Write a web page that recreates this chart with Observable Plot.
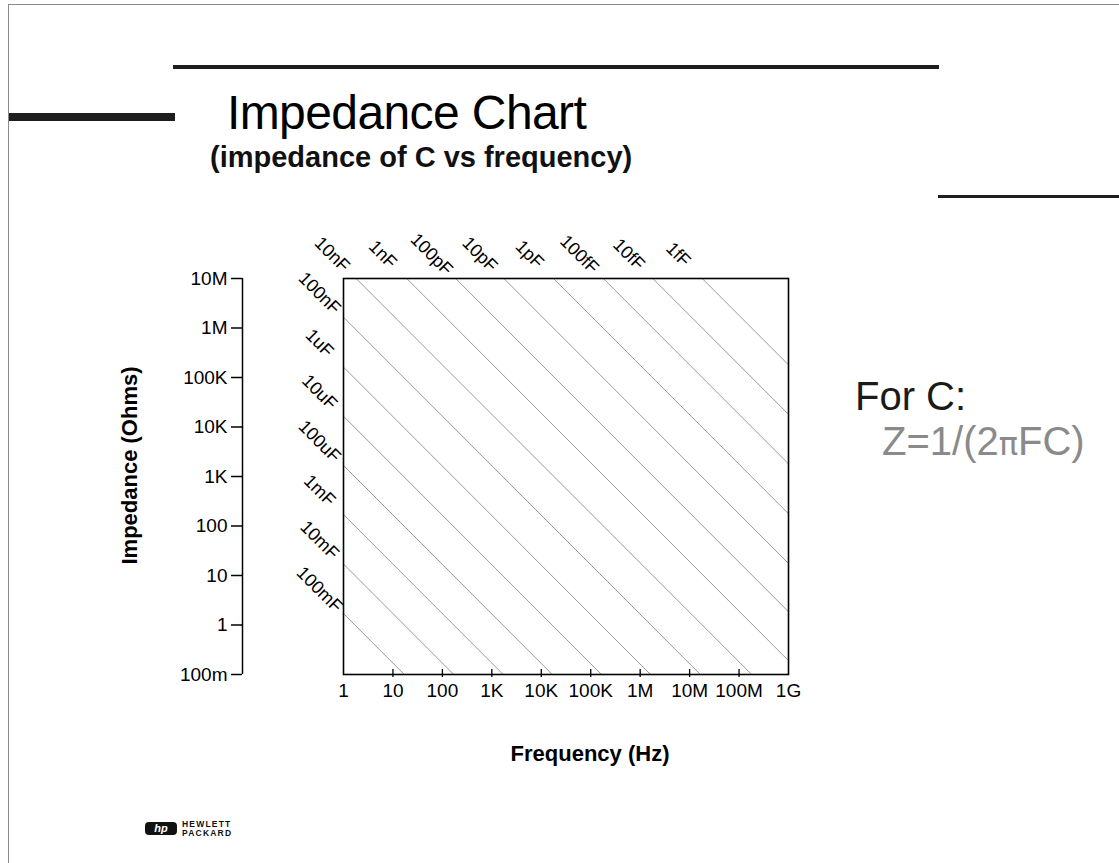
<!DOCTYPE html>
<html>
<head>
<meta charset="utf-8">
<script src="https://cdn.jsdelivr.net/npm/d3@7"></script>
<script src="https://cdn.jsdelivr.net/npm/@observablehq/plot@0.6"></script>
<style>
  html, body { margin: 0; padding: 0; background: #fff; }
  body { font-family: "Liberation Sans", Arial, Helvetica, sans-serif; }
  #slide { position: relative; width: 1119px; height: 863px; overflow: hidden; background: #fff; }
  #chart { position: absolute; left: 0; top: 0; }
  .abs { position: absolute; white-space: nowrap; line-height: 1; }
  .rule { position: absolute; background: #1e1e1e; }
  .hp { font-size: 8.5px; font-weight: bold; letter-spacing: 1.2px; color: #111; }
</style>
</head>
<body>
<div id="slide">
  <div class="abs" style="left:8px;top:4px;width:1200px;height:900px;border-left:1px solid #8a8a8a;border-top:1px solid #8a8a8a;"></div>
  <div class="rule" style="left:173px;top:65px;width:766px;height:4px;"></div>
  <div class="rule" style="left:9px;top:113px;width:166px;height:8px;"></div>
  <div class="rule" style="left:938px;top:195px;width:181px;height:3px;"></div>
  <div id="chart"></div>
  <div class="abs" style="left:227px;top:89px;font-size:48px;letter-spacing:-0.6px;color:#000;">Impedance Chart</div>
  <div class="abs" style="left:210px;top:143px;font-size:29px;font-weight:bold;color:#111;">(impedance of C vs frequency)</div>
  <div class="abs" style="left:855px;top:376px;font-size:40px;color:#1a1a1a;">For C:</div>
  <div class="abs" style="left:882px;top:421px;font-size:40px;color:#8a8a8a;">Z=1/(2<span style="font-family:'DejaVu Sans',sans-serif;font-size:0.8em;">π</span>FC)</div>
  <div class="abs" style="left:145px;top:822px;width:32px;height:13px;background:#111;border-radius:4px;color:#fff;font-size:11px;font-weight:bold;font-style:italic;text-align:center;line-height:13px;">hp</div>
  <div class="abs hp" style="left:182px;top:820px;">HEWLETT</div>
  <div class="abs hp" style="left:182px;top:828.6px;">PACKARD</div>
</div>
<script>
// Axis ticks
const xTickValues = [1, 10, 100, 1e3, 1e4, 1e5, 1e6, 1e7, 1e8, 1e9];
const xTickLabels = ["1", "10", "100", "1K", "10K", "100K", "1M", "10M", "100M", "1G"];
const xInnerTicks = [10, 100, 1e3, 1e4, 1e5, 1e6, 1e7, 1e8];
const yTickValues = [1e7, 1e6, 1e5, 1e4, 1e3, 100, 10, 1, 0.1];
const yTickLabels = ["10M", "1M", "100K", "10K", "1K", "100", "10", "1", "100m"];

// Capacitance lines: entry and exit points (frequency Hz, impedance Ohms)
const capLabels = ["100mF", "10mF", "1mF", "100uF", "10uF", "1uF", "100nF",
                   "10nF", "1nF", "100pF", "10pF", "1pF", "100fF", "10fF", "1fF"];
const startFreq = [1, 1, 1, 1, 1, 1, 1,
                   1.8, 19, 185, 1750, 17700, 1.8e5, 1.8e6, 1.8e7];
const startZ    = [1.7, 17, 170, 1670, 16500, 1.62e5, 1.65e6,
                   1e7, 1e7, 1e7, 1e7, 1e7, 1e7, 1e7, 1e7];
const endFreq   = [17, 170, 1700, 16700, 1.65e5, 1.62e6, 1.65e7,
                   1.8e8, 1e9, 1e9, 1e9, 1e9, 1e9, 1e9, 1e9];
const endZ      = [0.1, 0.1, 0.1, 0.1, 0.1, 0.1, 0.1,
                   0.1, 0.19, 1.85, 17.5, 177, 1800, 18000, 1.8e5];

const lines = capLabels.map((c, i) => ({c, x1: startFreq[i], y1: startZ[i], x2: endFreq[i], y2: endZ[i]}));
const xFmt = d => xTickLabels[xTickValues.indexOf(d)];
const yFmt = d => yTickLabels[yTickValues.indexOf(d)];

const chart = Plot.plot({
  width: 1119,
  height: 863,
  marginLeft: 343,
  marginRight: 331,
  marginTop: 278,
  marginBottom: 189,
  style: {fontFamily: "'Liberation Sans', Arial, sans-serif", fontSize: "19px", color: "#000", background: "transparent", overflow: "visible"},
  x: {type: "log", domain: [xTickValues[0], xTickValues[xTickValues.length - 1]]},
  y: {type: "log", domain: [yTickValues[yTickValues.length - 1], yTickValues[0]]},
  marks: [
    Plot.link(lines, {x1: d => d.x1, y1: d => d.y1, x2: d => d.x2, y2: d => d.y2, stroke: "#9a9a9a", strokeWidth: 1}),
    Plot.frame({stroke: "#000", strokeWidth: 1.6}),
    Plot.text(lines, {x: d => d.x1, y: d => d.y1, text: d => d.c, rotate: 45, dx: -24, dy: -24,
      textAnchor: "middle", lineAnchor: "middle", fontSize: 18, fill: "#000"}),
    // y axis (detached to the left of the frame)
    Plot.ruleX([xTickValues[0]], {y1: yTickValues[yTickValues.length - 1], y2: yTickValues[0], dx: -101, stroke: "#000", strokeWidth: 1.5}),
    Plot.axisY({ticks: yTickValues, tickFormat: yFmt, tickSize: 11, tickPadding: 4, dx: -101, label: null, strokeWidth: 1.5}),
    // x axis: small crossing ticks + labels
    Plot.axisX({ticks: xInnerTicks, tickFormat: () => "", tickSize: 8, dy: -5, label: null, strokeWidth: 1.3}),
    Plot.axisX({ticks: xTickValues, tickFormat: xFmt, tickSize: 0, tickPadding: 9, label: null}),
    Plot.text(["Impedance (Ohms)"], {frameAnchor: "left", textAnchor: "middle", lineAnchor: "middle", rotate: -90, dx: -214, dy: -11, fontSize: 22, fontWeight: "bold", fill: "#000"}),
    Plot.text(["Frequency (Hz)"], {frameAnchor: "bottom", textAnchor: "middle", lineAnchor: "middle", dx: 24, dy: 79, fontSize: 22, fontWeight: "bold", fill: "#000"})
  ]
});
document.getElementById("chart").append(chart);
</script>
</body>
</html>
